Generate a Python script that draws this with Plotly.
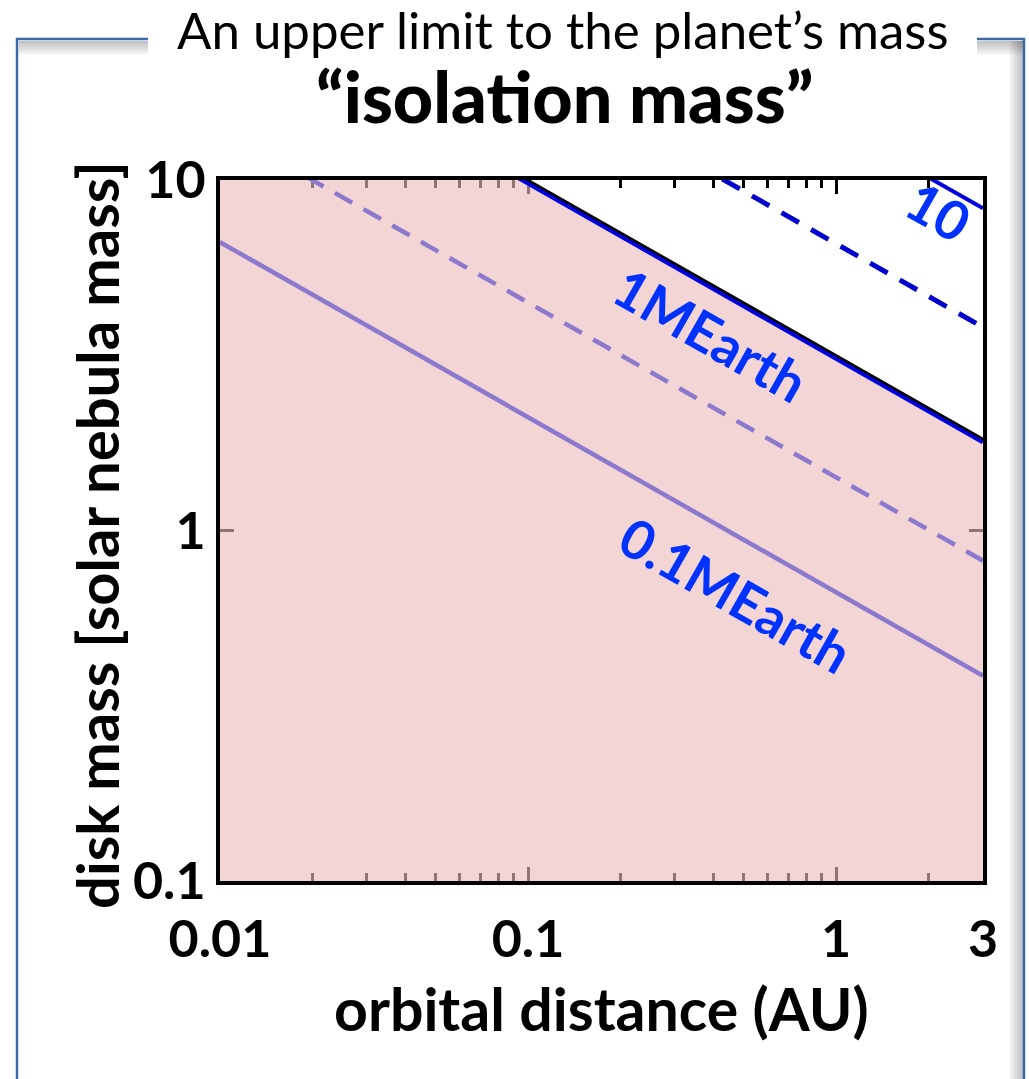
import plotly.graph_objects as go

# ---------------- data ----------------
x_range = [0.01, 3]
y_range = [0.1, 10]
x_tickvals = [0.01, 0.1, 1, 3]
x_ticktext = ["0.01", "0.1", "1", "3"]
x_minor = [0.02, 0.03, 0.04, 0.05, 0.06, 0.07, 0.08, 0.09,
           0.2, 0.3, 0.4, 0.5, 0.6, 0.7, 0.8, 0.9, 2]
y_tickvals = [0.1, 1, 10]
y_ticktext = ["0.1", "1", "10"]

line_x = [0.01, 3]
# disk mass at a = 0.01 AU and a = 3 AU for each isolation-mass line
m01_solid = [6.65, 0.385]     # 0.1 M_Earth
m01_dashed = [14.1, 0.82]
m1_blue = [31.0, 1.79]        # 1 M_Earth
boundary = [31.6, 1.826]      # black boundary of shaded region
m1_dashed = [65.8, 3.8]
m10_solid = [143.8, 8.3]      # 10 M_Earth

# ---------------- geometry helpers ----------------
W, H = 1029, 1079
L, R, T, B = 220, 983, 180, 881


def xp(px):
    return (px - L) / (R - L)


def yp(py):
    return (B - py) / (B - T)


fig = go.Figure()

# shaded region below the boundary, clipped to the axes
fill_x = [x_range[0], x_range[0]] + line_x + [x_range[1]]
fill_y = [y_range[0], boundary[0]] + boundary + [y_range[0]]
fig.add_trace(go.Scatter(x=fill_x, y=fill_y, fill="toself", mode="lines",
                         fillcolor="rgba(235,187,187,0.62)",
                         line=dict(width=0), hoverinfo="skip"))

purple = "rgb(140,120,205)"
fig.add_trace(go.Scatter(x=line_x, y=m01_solid, mode="lines",
                         line=dict(color=purple, width=4.5)))
fig.add_trace(go.Scatter(x=line_x, y=m01_dashed, mode="lines",
                         line=dict(color=purple, width=4.5, dash="20px,13px")))
fig.add_trace(go.Scatter(x=line_x, y=m1_blue, mode="lines",
                         line=dict(color="rgb(0,0,220)", width=5)))
fig.add_trace(go.Scatter(x=line_x, y=boundary, mode="lines",
                         line=dict(color="black", width=2.5)))
fig.add_trace(go.Scatter(x=line_x, y=m1_dashed, mode="lines",
                         line=dict(color="rgb(0,0,205)", width=5, dash="20px,14px")))
fig.add_trace(go.Scatter(x=line_x, y=m10_solid, mode="lines",
                         line=dict(color="rgb(0,0,220)", width=4)))

tickfont = dict(family="Lato", size=52, color="black", weight="bold")

fig.update_xaxes(type="log", range=[-2, 0.47712], tickmode="array",
                 tickvals=x_tickvals, ticktext=x_ticktext,
                 ticks="inside", ticklen=14, tickwidth=3, tickcolor="black",
                 showline=True, linewidth=4, linecolor="black", mirror="ticks",
                 showgrid=False, zeroline=False, layer="below traces",
                 tickfont=tickfont, ticklabelstandoff=10,
                 minor=dict(tickmode="array", tickvals=x_minor, ticks="inside",
                            ticklen=8, tickwidth=3, tickcolor="black",
                            showgrid=False))
fig.update_yaxes(type="log", range=[-1, 1], tickmode="array",
                 tickvals=y_tickvals, ticktext=y_ticktext,
                 ticks="inside", ticklen=14, tickwidth=3, tickcolor="black",
                 showline=True, linewidth=4, linecolor="black", mirror="ticks",
                 showgrid=False, zeroline=False, layer="below traces",
                 tickfont=tickfont, ticklabelstandoff=0)

shapes = []
# outer panel frame
frame_col = "rgb(60,105,165)"
for i in range(7):
    a = 0.035
    shapes.append(dict(type="rect", xref="paper", yref="paper", layer="below",
                       x0=xp(19), x1=xp(1023), y0=yp(41), y1=yp(41 + 2 * (i + 1)),
                       line=dict(width=0), fillcolor=f"rgba(0,0,0,{a})"))
    shapes.append(dict(type="rect", xref="paper", yref="paper", layer="below",
                       x0=xp(1023 - 2 * (i + 1)), x1=xp(1023), y0=yp(1085), y1=yp(41),
                       line=dict(width=0), fillcolor=f"rgba(0,0,0,{a})"))
shapes.append(dict(type="rect", xref="paper", yref="paper", layer="below",
                   x0=xp(17), x1=xp(1024), y0=yp(1090), y1=yp(39),
                   line=dict(color=frame_col, width=2.5), fillcolor="rgba(0,0,0,0)"))
# white gap in the frame behind the heading
shapes.append(dict(type="rect", xref="paper", yref="paper", layer="below",
                   x0=xp(148), x1=xp(977), y0=yp(62), y1=yp(30),
                   line=dict(width=0), fillcolor="white"))
fig.update_layout(shapes=shapes)

blue_txt = "rgb(0,50,255)"
annotations = [
    dict(text="An upper limit to the planet’s mass", xref="paper", yref="paper",
         x=xp(562), y=yp(30), showarrow=False,
         font=dict(family="Lato", size=51, color="black"),
         xanchor="center", yanchor="middle"),
    dict(text="“isolation mass”", xref="paper", yref="paper",
         x=xp(564), y=yp(96), showarrow=False,
         font=dict(family="Lato", size=70, color="black", weight=900),
         xanchor="center", yanchor="middle"),
    dict(text="orbital distance (AU)", xref="paper", yref="paper",
         x=xp(601), y=yp(1008), showarrow=False,
         font=dict(family="Lato", size=59, color="black", weight="bold"),
         xanchor="center", yanchor="middle"),
    dict(text="disk mass [solar nebula mass]", xref="paper", yref="paper",
         x=xp(96), y=yp(535), showarrow=False, textangle=-90,
         font=dict(family="Lato", size=58, color="black", weight="bold"),
         xanchor="center", yanchor="middle"),
    dict(text="1MEarth", xref="x", yref="y", x=-0.407, y=0.558, showarrow=False,
         textangle=29.7, font=dict(family="Lato", size=54, color=blue_txt, weight="bold")),
    dict(text="0.1MEarth", xref="x", yref="y", x=-0.326, y=-0.184, showarrow=False,
         textangle=29.7, font=dict(family="Lato", size=54, color=blue_txt, weight="bold")),
    dict(text="10", xref="x", yref="y", x=0.334, y=0.909, showarrow=False,
         textangle=29.7, font=dict(family="Lato", size=54, color=blue_txt, weight="bold")),
]
fig.update_layout(annotations=annotations)

fig.update_layout(width=W, height=H, showlegend=False,
                  margin=dict(l=L, r=W - R, t=T, b=H - B, pad=0),
                  paper_bgcolor="white", plot_bgcolor="white")

fig.write_html("out.html")
